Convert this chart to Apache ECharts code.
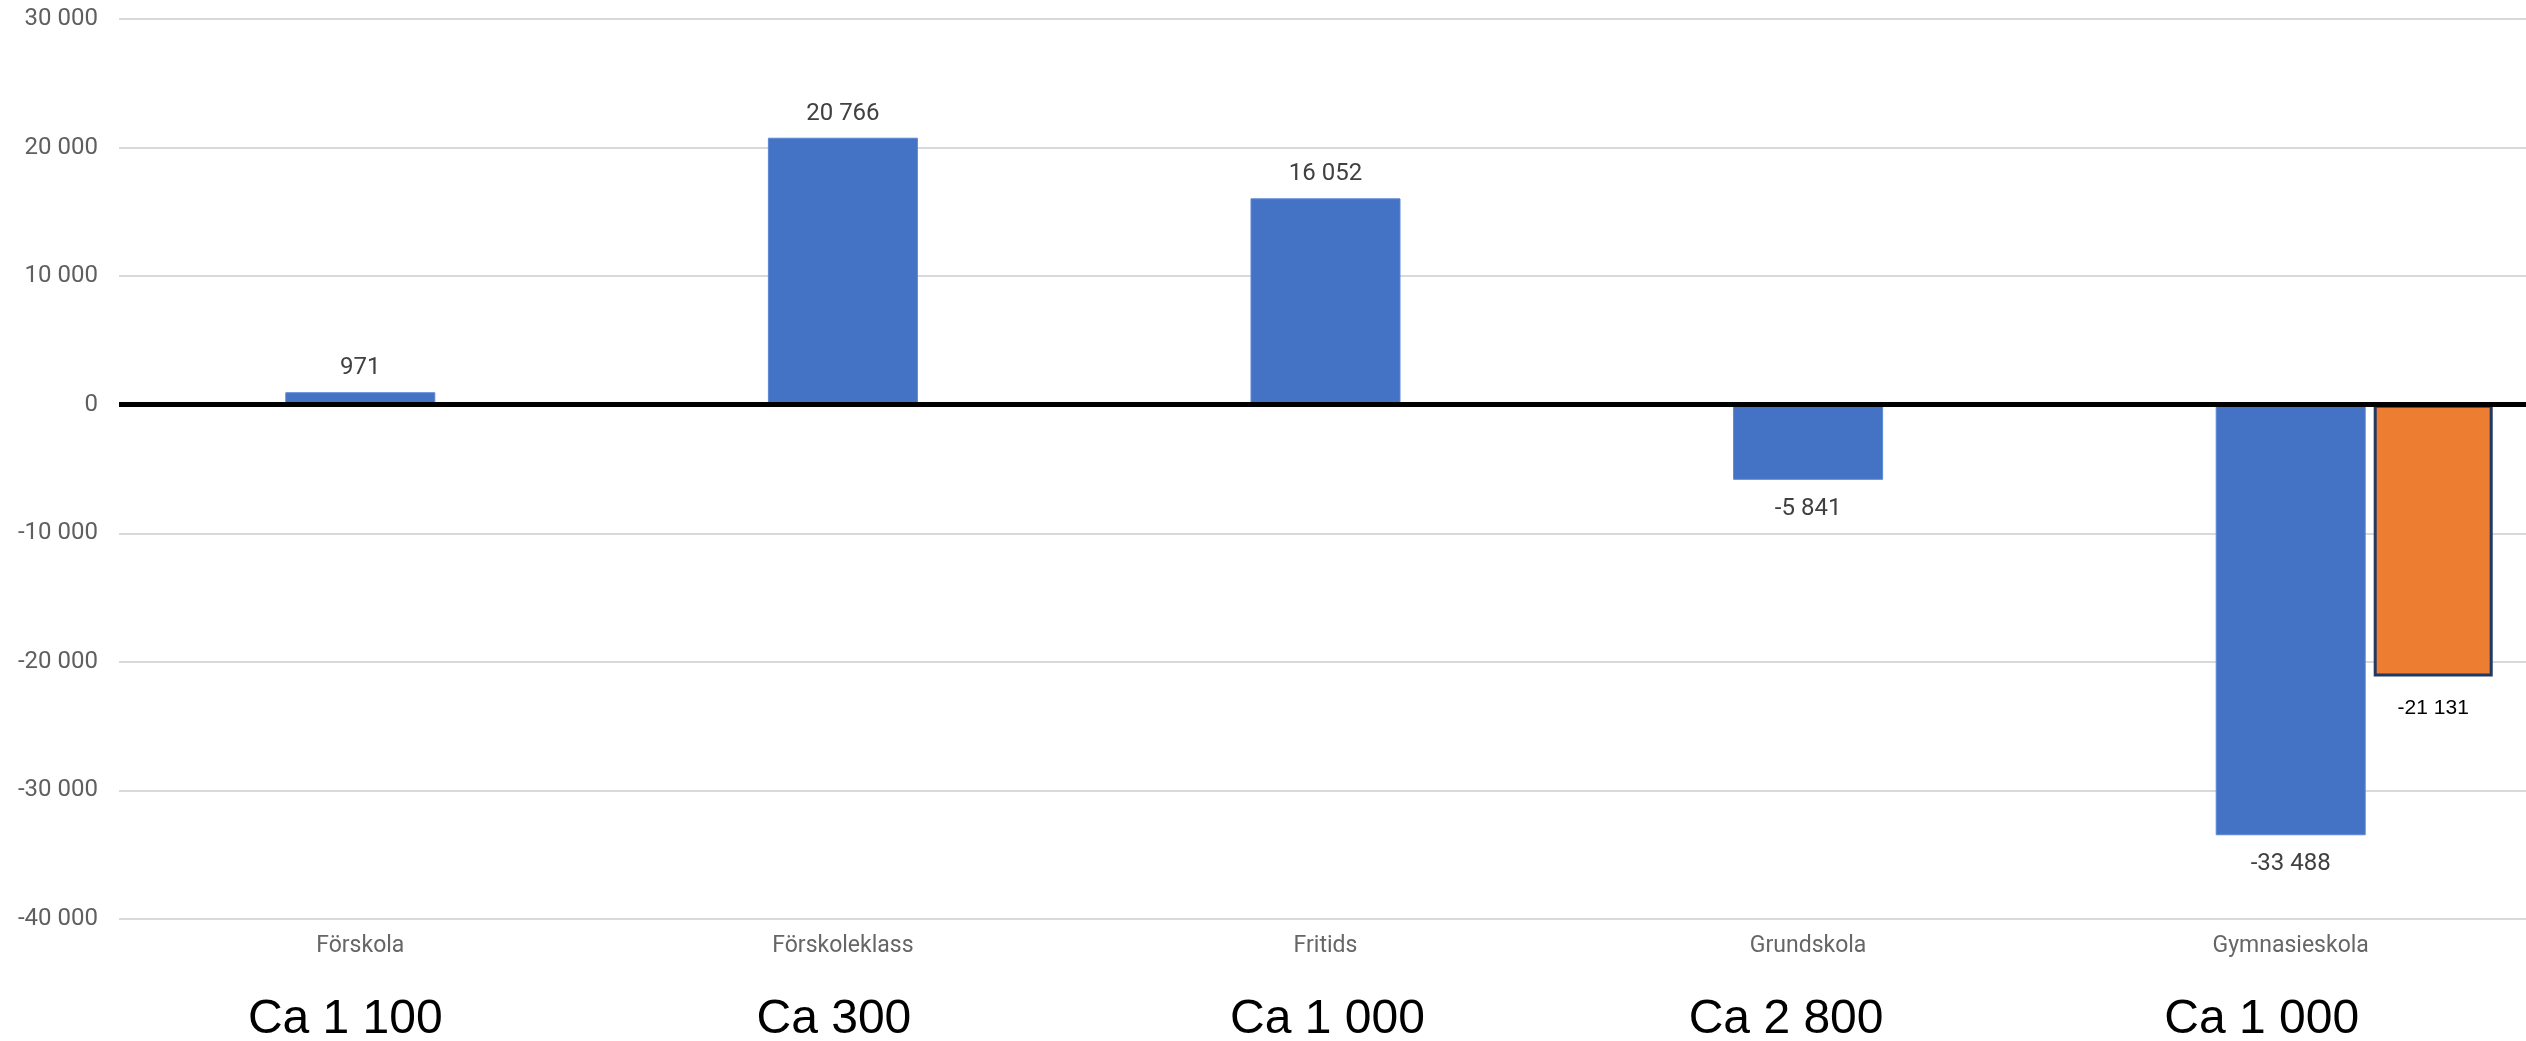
<!DOCTYPE html>
<html>
<head>
<meta charset="utf-8">
<script src="https://cdn.jsdelivr.net/npm/echarts@6/dist/echarts.min.js"></script>
<style>
html,body{margin:0;padding:0;background:#fff;}
#chart{width:2526px;height:1041px;}
</style>
</head>
<body>
<div id="chart"></div>
<script>
// ---- data ----
const categories = ['Förskola', 'Förskoleklass', 'Fritids', 'Grundskola', 'Gymnasieskola'];
const counts = ['Ca 1 100', 'Ca 300', 'Ca 1 000', 'Ca 2 800', 'Ca 1 000'];
const blueValues = [971, 20766, 16052, -5841, -33488];
const orangeValues = [null, null, null, null, -21131];
const spacerValues = [null, null, null, null, null];
const yTicks = { min: -40000, max: 30000, interval: 10000 };

// ---- layout (pixel nudges of the hand-placed count labels) ----
const countShiftPx = [-15, -9, 2, -22, -29];

function fmt(v) {
  const s = String(Math.abs(v)).replace(/\B(?=(\d{3})+(?!\d))/g, ' ');
  return (v < 0 ? '-' : '') + s;
}

const chart = echarts.init(document.getElementById('chart'), null, { renderer: 'canvas' });

const blueData = blueValues.map(v => ({
  value: v,
  label: { position: v < 0 ? 'bottom' : 'top', distance: v < 0 ? 17 : 12 }
}));

const countData = counts.map((c, i) => {
  const s = countShiftPx[i];
  return {
    value: c,
    textStyle: { padding: s < 0 ? [0, -2 * s, 0, 0] : [0, 0, 0, 2 * s] }
  };
});

const option = {
  animation: false,
  backgroundColor: '#ffffff',
  grid: { left: 119, right: -6, top: 19, bottom: 122, containLabel: false, outerBoundsMode: 'none' },
  xAxis: [
    {
      type: 'category',
      data: categories,
      position: 'bottom',
      axisLine: { show: false },
      axisTick: { show: false },
      axisLabel: { interval: 0, margin: 16, fontFamily: 'Roboto', fontSize: 23, color: '#666666' },
      splitLine: { show: false }
    },
    {
      type: 'category',
      data: countData,
      position: 'bottom',
      axisLine: { show: false },
      axisTick: { show: false },
      axisLabel: { interval: 0, margin: 77, fontFamily: 'Liberation Sans', fontSize: 48, color: '#000000' },
      splitLine: { show: false }
    }
  ],
  yAxis: {
    type: 'value',
    min: yTicks.min,
    max: yTicks.max,
    interval: yTicks.interval,
    axisLine: { show: false },
    axisTick: { show: false },
    axisLabel: { margin: 21, fontFamily: 'Roboto', fontSize: 24, color: '#5f5f5f', formatter: fmt },
    splitLine: { lineStyle: { color: '#d9d9d9', width: 2 } }
  },
  series: [
    {
      name: 'Blue',
      type: 'bar',
      xAxisIndex: 0,
      barWidth: 150,
      data: blueData,
      itemStyle: { color: '#4472C4', borderColor: '#5b87d6', borderWidth: 1 },
      label: {
        show: true,
        fontFamily: 'Roboto',
        fontSize: 24,
        color: '#404040',
        formatter: p => fmt(p.value)
      },
      markLine: {
        silent: true,
        symbol: 'none',
        label: { show: false },
        lineStyle: { color: '#000000', width: 5, type: 'solid' },
        data: [{ yAxis: 0 }],
        z: 10
      },
      z: 2
    },
    {
      name: 'spacer',
      type: 'bar',
      xAxisIndex: 1,
      barWidth: 285,
      barGap: '0%',
      data: spacerValues,
      silent: true,
      itemStyle: { color: 'rgba(0,0,0,0)' }
    },
    {
      name: 'Orange',
      type: 'bar',
      xAxisIndex: 1,
      barWidth: 119,
      barGap: '0%',
      data: orangeValues,
      itemStyle: { color: '#ED7D31', borderColor: '#203864', borderWidth: 3 },
      label: {
        show: true,
        position: 'bottom',
        distance: 21,
        fontFamily: 'Liberation Sans',
        fontSize: 21,
        color: '#000000',
        formatter: p => fmt(p.value)
      },
      z: 3
    }
  ]
};

chart.setOption(option);
</script>
</body>
</html>
